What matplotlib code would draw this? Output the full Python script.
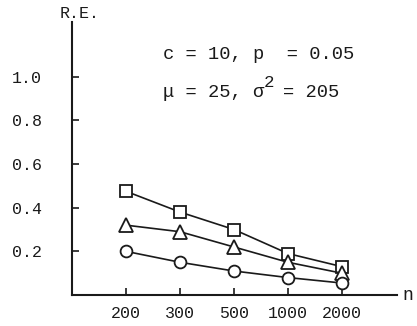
import matplotlib.pyplot as plt
from matplotlib.transforms import offset_copy
import numpy as np

# sample sizes and relative efficiencies for the three estimators
sample_sizes = ["200", "300", "500", "1000", "2000"]
re_square = [0.475, 0.38, 0.30, 0.19, 0.13]
re_triangle = [0.32, 0.29, 0.22, 0.15, 0.10]
re_circle = [0.20, 0.15, 0.11, 0.08, 0.055]
y_ticks = [0.2, 0.4, 0.6, 0.8, 1.0]

plt.rcParams['font.family'] = ['Liberation Mono', 'DejaVu Sans Mono']

ink = '#1a1a1a'
fsize = 13.5
char_w = 0.6 * fsize  # monospace advance, in points

fig = plt.figure(figsize=(4.17, 3.26), dpi=100)
ax = fig.add_axes([0.173, 0.095, 0.779, 0.837])

x = np.arange(1, len(sample_sizes) + 1)
style = dict(color=ink, lw=1.2, markerfacecolor='white',
             markeredgecolor=ink, markeredgewidth=1.3)
ax.plot(x, re_square, marker='s', ms=8, **style)
ax.plot(x, re_triangle, marker='^', ms=10, **style)
ax.plot(x, re_circle, marker='o', ms=8.5, **style)

ax.set_xlim(0, 6.02)
ax.set_ylim(0, 1.25)
ax.set_xticks(x)
ax.set_xticklabels(sample_sizes)
ax.set_yticks(y_ticks)
ax.set_yticklabels([f"{v:.1f}" for v in y_ticks])
ax.tick_params(axis='both', direction='in', length=5, width=1.2,
               labelsize=12, colors=ink)
ax.tick_params(axis='y', pad=22)
ax.tick_params(axis='x', pad=8)

for side in ('top', 'right'):
    ax.spines[side].set_visible(False)
for side in ('left', 'bottom'):
    ax.spines[side].set_linewidth(1.5)
    ax.spines[side].set_color(ink)

ax.text(-0.04, 1.005, "R.E.", transform=ax.transAxes, ha='left',
        va='bottom', fontsize=12, color=ink)
ax.text(1.018, 0.0, "n", transform=ax.transAxes, ha='left', va='center',
        fontsize=13, color=ink)

# parameter annotation, typed with a raised full-size exponent
ax.text(1.68, 1.10, "c = 10, p  = 0.05", fontsize=fsize, color=ink,
        va='center')
ax.text(1.68, 0.93, "μ = 25, σ", fontsize=fsize, color=ink, va='center')
ax.text(1.68, 0.93, "2",
        transform=offset_copy(ax.transData, fig=fig, x=9 * char_w, y=7,
                              units='points'),
        fontsize=fsize - 1, color=ink, va='center')
ax.text(1.68, 0.93, "= 205",
        transform=offset_copy(ax.transData, fig=fig, x=10.7 * char_w, y=0,
                              units='points'),
        fontsize=fsize, color=ink, va='center')

fig.savefig("out.png", dpi=100)
